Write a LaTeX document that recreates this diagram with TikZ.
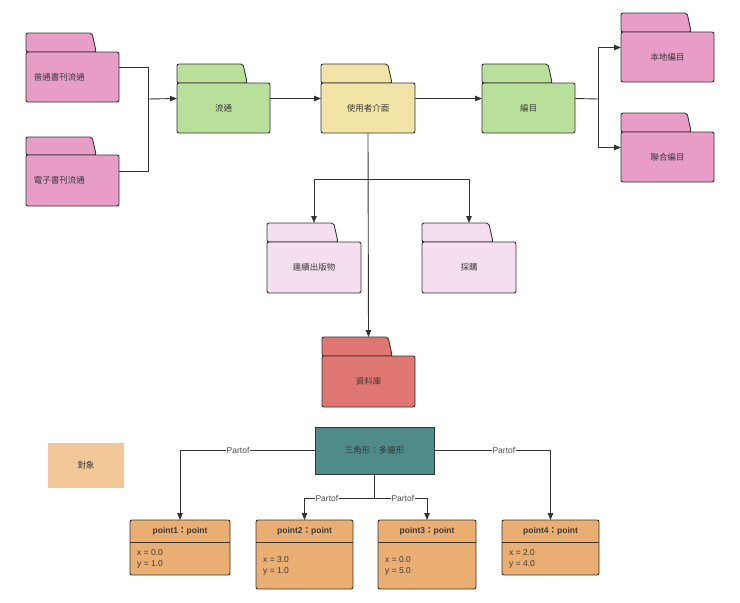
\documentclass[tikz,border=0pt]{standalone}
\usepackage{fontspec}
\setmainfont{Liberation Sans}
\newfontfamily\cjk{Noto Sans CJK TC}
\usetikzlibrary{arrows.meta,calc}
\definecolor{cpink}{HTML}{E79DC6}
\definecolor{cgreen}{HTML}{B9E09B}
\definecolor{cyellow}{HTML}{F1E4A6}
\definecolor{clpink}{HTML}{F5DEEE}
\definecolor{cred}{HTML}{E07773}
\definecolor{cteal}{HTML}{4E8B89}
\definecolor{corange}{HTML}{EBAE72}
\definecolor{cobj}{HTML}{F1C797}
\definecolor{cline}{HTML}{333333}
\definecolor{ctext}{HTML}{3A3A3A}
\tikzset{
  ghost/.style={inner sep=0pt, outer sep=0pt},
  fline/.style={draw=cline, line width=0.9pt},
  ftext/.style={font=\cjk\fontsize{8.5}{10}\selectfont, text=ctext, text width=77pt, inner sep=0pt},
  conn/.style={draw=cline, line width=0.9pt},
  arr/.style={conn, -{Triangle[length=7pt,width=5.5pt]}},
  lbl/.style={fill=white, inner sep=1pt, font=\fontsize{8.5}{10}\selectfont, text=black!70},
  pbox/.style={draw=cline, line width=0.9pt, fill=corange, rounded corners=2pt, inner sep=0pt, outer sep=0pt},
  ptitle/.style={font=\bfseries\fontsize{8.5}{10}\selectfont, text=ctext, inner sep=0pt},
  pattr/.style={font=\fontsize{8.5}{11}\selectfont, text=ctext, align=left, inner sep=0pt},
}
% #1 name #2 fill #3 x1 #4 tabtop #5 bodytop #6 x2 #7 bottom #8 text #9 align
\newcommand\folder[9]{%
  \node[ghost, minimum width={(#6-#3)*1pt}, minimum height={(#7-#4)*1pt}, anchor=north west] (#1) at (#3,#4) {};
  \filldraw[fline, fill=#2, rounded corners=2pt] (#3,#5) -- (#3,#4) -- ({#3+0.71*(#6-#3)},#4) -- ({#3+0.755*(#6-#3)},#5) -- cycle;
  \filldraw[fline, fill=#2, rounded corners=2pt] (#3,#5) rectangle (#6,#7);
  \node[ftext, align=#9] (#1-l) at ({(#3+#6)/2},{(#5+#7)/2}) {#8};
}
% #1 name #2 x1 #3 top #4 x2 #5 bottom #6 title #7 attrs
\newcommand\pointbox[7]{%
  \node[pbox, minimum width={(#4-#2)*1pt}, minimum height={(#5-#3)*1pt}, anchor=north west] (#1) at (#2,#3) {};
  \draw[conn] (#2,{#3+22}) -- (#4,{#3+22});
  \node[ptitle] (#1-t) at ({(#2+#4)/2},{#3+11}) {#6};
  \node[pattr, anchor=west] (#1-a) at ({#2+7},{(#3+22+#5)/2}) {#7};
}
\begin{document}
\begin{tikzpicture}[x=1pt,y=-1pt]
\useasboundingbox (0,0) rectangle (740,603);

\folder{p1}{cpink}{26}{33}{52}{119}{102}{普通書刊流通}{left}
\folder{p2}{cpink}{26}{137}{155}{119}{206}{電子書刊流通}{left}
\folder{lt}{cgreen}{177}{64}{83}{270}{133}{流通}{center}
\folder{ui}{cyellow}{321}{64}{83}{415}{133}{使用者介面}{center}
\folder{bm}{cgreen}{482}{64}{83}{575}{133}{編目}{center}
\folder{loc}{cpink}{621}{13}{32}{714}{82}{本地編目}{center}
\folder{uni}{cpink}{621}{113}{132}{714}{182}{聯合編目}{center}
\folder{ser}{clpink}{267}{223}{242}{361}{293}{連續出版物}{center}
\folder{acq}{clpink}{422}{223}{242}{516}{293}{採購}{center}
\folder{db}{cred}{322}{337}{356}{415}{407}{資料庫}{center}

\coordinate (jl) at (148,99);
\draw[conn] (p1.east) -| (jl);
\draw[conn] (p2.east) -| (jl);
\draw[arr] (jl) -- (lt.west);
\draw[arr] (lt.east) -- (ui.west);
\draw[arr] (ui.east) -- (bm.west);
\coordinate (jr) at (598,99);
\draw[conn] (bm.east) -- (jr);
\draw[arr] (jr) |- (loc.west);
\draw[arr] (jr) |- (uni.west);
\draw[arr] (ui.south) -- (db.north);
\coordinate (y179) at (0,179);
\coordinate (jd) at (ui.south |- y179);
\draw[arr] (jd) -| (ser.north);
\draw[arr] (jd) -| (acq.north);

\node[fill=cobj, minimum width=76pt, minimum height=45pt, inner sep=0pt, font=\cjk\fontsize{8.5}{10}\selectfont, text=ctext] (obj) at (86,465.5) {對象};
\node[draw=cline, line width=0.9pt, fill=cteal, minimum width=119pt, minimum height=47pt, inner sep=0pt, outer sep=0pt, font=\cjk\fontsize{8.5}{10}\selectfont, text=black!80] (tri) at (374.5,450.5) {三角形：多邊形};

\pointbox{pt1}{130}{520}{230}{575}{point1{\cjk ：}point}{x = 0.0\\y = 1.0}
\pointbox{pt2}{256}{520}{353}{589}{point2{\cjk ：}point}{x = 3.0\\y = 1.0}
\pointbox{pt3}{378}{520}{476}{589}{point3{\cjk ：}point}{x = 0.0\\y = 5.0}
\pointbox{pt4}{502}{520}{599}{575}{point4{\cjk ：}point}{x = 2.0\\y = 4.0}

\draw[arr] (tri.west) -| node[lbl, pos=0.285] {Partof} (pt1.north);
\draw[arr] (tri.east) -| node[lbl, pos=0.3] {Partof} (pt4.north);
\coordinate (y498) at (0,498);
\coordinate (jm) at (tri.south |- y498);
\draw[conn] (tri.south) -- (jm);
\draw[arr] (jm) -| node[lbl, pos=0.34] {Partof} (pt2.north);
\draw[arr] (jm) -| node[lbl, pos=0.27] {Partof} (pt3.north);
\end{tikzpicture}
\end{document}
